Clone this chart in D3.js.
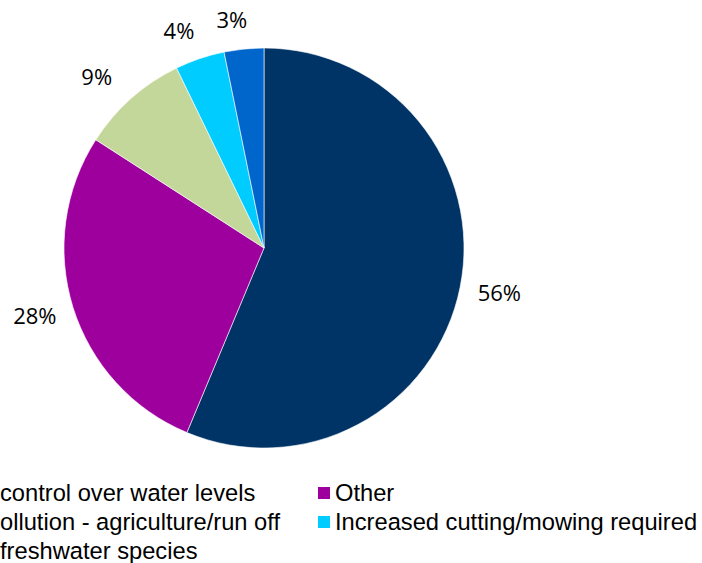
<!DOCTYPE html>
<html>
<head>
<meta charset="utf-8">
<script src="https://cdn.jsdelivr.net/npm/d3@7"></script>
<style>
  html, body { margin: 0; padding: 0; background: #fff; overflow: hidden; }
  svg { display: block; }
</style>
</head>
<body>
<svg id="chart" width="702" height="563"></svg>
<script>
// Data (slices clockwise from 12 o'clock)
const categories = [
  "control over water levels",
  "Other",
  "ollution - agriculture/run off",
  "Increased cutting/mowing required",
  "freshwater species"
];
const values = [56.3, 27.8, 8.7, 4.0, 3.2];
const labels = ["56%", "28%", "9%", "4%", "3%"];
const colors = ["#003366", "#9E009E", "#C4D79B", "#00CCFF", "#0066CC"];
// legend order (row-wise, two columns)
const legendOrder = [0, 1, 2, 3, 4];

const svg = d3.select("#chart");
const cx = 264, cy = 248, r = 200;

const pie = d3.pie().sort(null).value(d => d)(values);
const arc = d3.arc().innerRadius(0).outerRadius(r);

const g = svg.append("g").attr("transform", `translate(${cx},${cy})`);
g.selectAll("path.slice")
  .data(pie)
  .join("path")
  .attr("class", "slice")
  .attr("d", arc)
  .attr("fill", (d, i) => colors[i])
  .attr("stroke", "#ffffff")
  .attr("stroke-width", 0.6);

// data labels (outside end)
const rx = 240, ry = 229;
g.selectAll("text.lbl")
  .data(pie)
  .join("text")
  .attr("class", "lbl")
  .attr("x", d => { const a = (d.startAngle + d.endAngle) / 2; return rx * Math.sin(a) - (a > 5 ? 8 : 0); })
  .attr("y", d => { const a = (d.startAngle + d.endAngle) / 2; return -ry * Math.cos(a); })
  .attr("dy", "0.36em")
  .attr("text-anchor", "middle")
  .attr("font-family", "'Open Sans', sans-serif")
  .attr("font-size", 22)
  .attr("fill", "#000")
  .text((d, i) => labels[i]);

// legend
const colX = [-17, 318];
const rowY = [493, 522, 551];
const legend = svg.append("g");
legendOrder.forEach((idx, k) => {
  const col = k % 2, row = Math.floor(k / 2);
  const x = colX[col], y = rowY[row];
  legend.append("rect")
    .attr("x", x).attr("y", y - 6)
    .attr("width", 12).attr("height", 12)
    .attr("fill", colors[idx]);
  legend.append("text")
    .attr("x", x + 17).attr("y", y)
    .attr("dy", "0.35em")
    .attr("font-family", "'Liberation Sans', Arial, sans-serif")
    .attr("font-size", 23.7)
    .attr("fill", "#000")
    .text(categories[idx]);
});
</script>
</body>
</html>
